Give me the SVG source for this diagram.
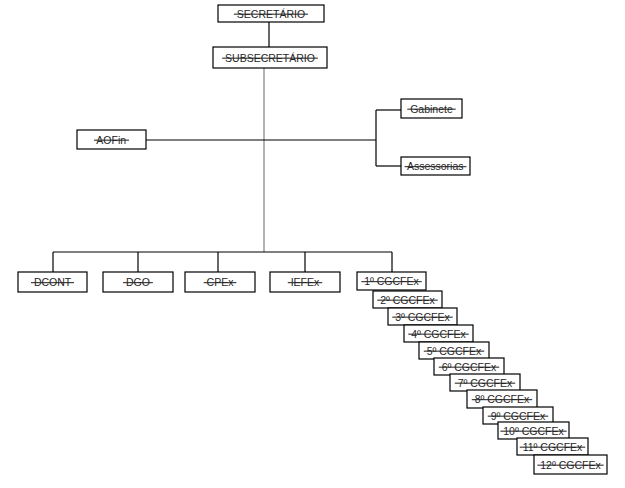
<svg xmlns="http://www.w3.org/2000/svg" width="625" height="488" viewBox="0 0 625 488">
<style>
.b{fill:#fff;stroke:#000;stroke-width:1.2}
.t{font-family:"Liberation Sans",Arial,sans-serif;font-size:10.5px;fill:#262626;text-anchor:middle;text-decoration:line-through;white-space:pre}
.c{stroke:#000;stroke-width:1.2;fill:none}
.g{stroke:#808080;stroke-width:1.2;fill:none}
</style>
<rect width="625" height="488" fill="#fff"/>
<g id="connectors">
<line class="c" x1="269" y1="22" x2="269" y2="47"/>
<line class="g" x1="264" y1="68" x2="264" y2="252"/>
<line class="c" x1="146" y1="140" x2="376" y2="140"/>
<line class="c" x1="376" y1="110" x2="376" y2="166"/>
<line class="c" x1="376" y1="110" x2="401" y2="110"/>
<line class="c" x1="376" y1="166" x2="401" y2="166"/>
<line class="c" x1="53" y1="252" x2="392" y2="252"/>
<line class="c" x1="53" y1="252" x2="53" y2="272"/>
<line class="c" x1="138" y1="252" x2="138" y2="272"/>
<line class="c" x1="218" y1="252" x2="218" y2="272"/>
<line class="c" x1="305" y1="252" x2="305" y2="272"/>
<line class="c" x1="392" y1="252" x2="392" y2="272"/>
</g>
<g id="secretario"><rect class="b" x="218" y="5" width="106" height="17"/><text class="t" x="271" y="17.5"> SECRETÁRIO </text></g>
<g id="subsecretario"><rect class="b" x="213" y="47" width="114" height="21"/><text class="t" x="270" y="61.5"> SUBSECRETÁRIO </text></g>
<g id="aofin"><rect class="b" x="77" y="130" width="69" height="19"/><text class="t" x="111.5" y="143.5"> AOFin </text></g>
<g id="gabinete"><rect class="b" x="401" y="99" width="61" height="19"/><text class="t" x="431.5" y="112.5"> Gabinete </text></g>
<g id="assessorias"><rect class="b" x="401" y="157" width="69" height="18"/><text class="t" x="435.5" y="170"> Assessorias </text></g>
<g id="dcont"><rect class="b" x="18" y="272" width="69" height="20"/><text class="t" x="52.5" y="286"> DCONT </text></g>
<g id="dgo"><rect class="b" x="103" y="272" width="70" height="20"/><text class="t" x="138" y="286"> DGO </text></g>
<g id="cpex"><rect class="b" x="185" y="272" width="70" height="20"/><text class="t" x="220" y="286"> CPEx </text></g>
<g id="iefex"><rect class="b" x="270" y="272" width="70" height="20"/><text class="t" x="305" y="286"> IEFEx </text></g>
<g id="cgcfex1"><rect class="b" x="357" y="272" width="69" height="18"/><text class="t" x="391.5" y="285"> 1º CGCFEx </text></g>
<g id="cgcfex2"><rect class="b" x="373" y="291" width="69" height="17"/><text class="t" x="407.5" y="303.5"> 2º CGCFEx </text></g>
<g id="cgcfex3"><rect class="b" x="388" y="308" width="69" height="17"/><text class="t" x="422.5" y="320.5"> 3º CGCFEx </text></g>
<g id="cgcfex4"><rect class="b" x="404" y="325" width="69" height="17"/><text class="t" x="438.5" y="337.5"> 4º CGCFEx </text></g>
<g id="cgcfex5"><rect class="b" x="419" y="342" width="70" height="17"/><text class="t" x="454" y="354.5"> 5º CGCFEx </text></g>
<g id="cgcfex6"><rect class="b" x="434" y="358" width="70" height="17"/><text class="t" x="469" y="370.5"> 6º CGCFEx </text></g>
<g id="cgcfex7"><rect class="b" x="450" y="374" width="70" height="17"/><text class="t" x="485" y="386.5"> 7º CGCFEx </text></g>
<g id="cgcfex8"><rect class="b" x="467" y="390" width="70" height="18"/><text class="t" x="502" y="403"> 8º CGCFEx </text></g>
<g id="cgcfex9"><rect class="b" x="483" y="407" width="70" height="17"/><text class="t" x="518" y="419.5"> 9º CGCFEx </text></g>
<g id="cgcfex10"><rect class="b" x="498" y="422" width="71" height="17"/><text class="t" x="533.5" y="434.5"> 10º CGCFEx </text></g>
<g id="cgcfex11"><rect class="b" x="517" y="438" width="71" height="17"/><text class="t" x="552.5" y="450.5"> 11º CGCFEx </text></g>
<g id="cgcfex12"><rect class="b" x="534" y="455" width="73" height="19"/><text class="t" x="570.5" y="468.5"> 12º CGCFEx </text></g>
</svg>
